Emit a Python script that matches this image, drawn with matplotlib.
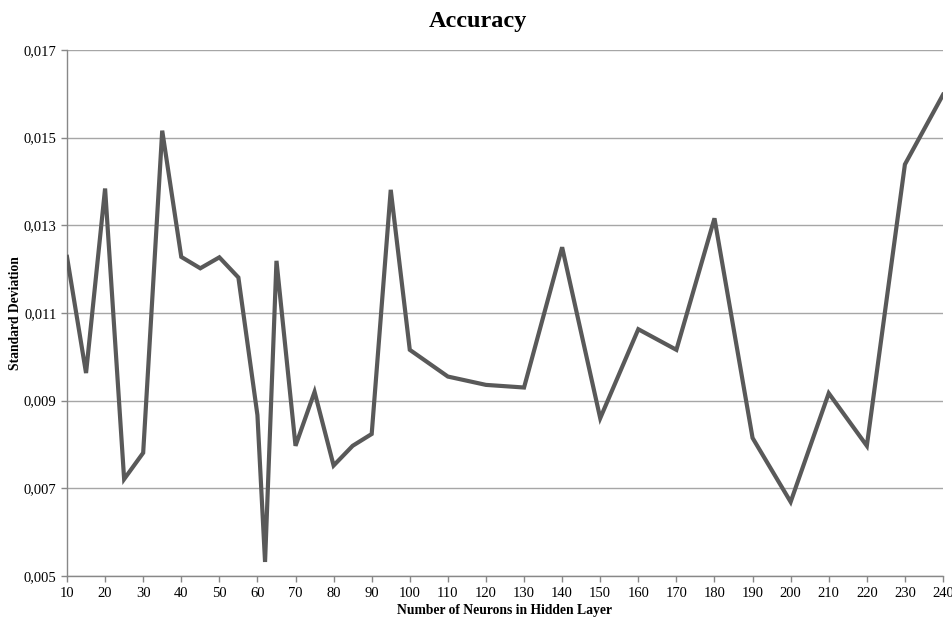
import numpy as np
import matplotlib.pyplot as plt
from matplotlib.ticker import FuncFormatter

# --- Data ---
neurons = [10, 15, 20, 25, 30, 35, 40, 45, 50, 55, 60, 62, 65, 70, 75, 80, 85, 90, 95,
           100, 110, 120, 130, 140, 150, 160, 170, 180, 190, 200, 210, 220, 230, 240]
std_dev = [0.01228, 0.00963, 0.01384, 0.00721, 0.00781, 0.01516, 0.01228, 0.01202,
           0.01227, 0.01181, 0.00867, 0.00532, 0.01219, 0.00797, 0.00920, 0.00752,
           0.00797, 0.00824, 0.01381, 0.01016, 0.00955, 0.00936, 0.00930, 0.01250,
           0.00860, 0.01063, 0.01016, 0.01316, 0.00815, 0.00669, 0.00917, 0.00797,
           0.01439, 0.01598]
x_ticks = list(range(10, 241, 10))
y_ticks = [0.005, 0.007, 0.009, 0.011, 0.013, 0.015, 0.017]

plt.rcParams['font.family'] = ['Liberation Serif', 'DejaVu Serif']

fig = plt.figure(figsize=(9.52, 6.19), dpi=100)
ax = fig.add_axes([67 / 952, 1 - 576 / 619, (943 - 67) / 952, (576 - 50) / 619])

ax.plot(neurons, std_dev, color='#595959', linewidth=3.0, solid_joinstyle='miter', zorder=3)

ax.set_xlim(10, 240)
ax.set_ylim(0.005, 0.017)
ax.set_xticks(x_ticks)
ax.set_yticks(y_ticks)
ax.yaxis.set_major_formatter(FuncFormatter(lambda v, p: f"{v:.3f}".replace('.', ',')))

ax.grid(axis='y', color='#A6A6A6', linewidth=1.0)
ax.set_axisbelow(True)
for side in ('top', 'right'):
    ax.spines[side].set_visible(False)
for side in ('left', 'bottom'):
    ax.spines[side].set_color('#888888')
    ax.spines[side].set_linewidth(1.0)
ax.tick_params(axis='both', direction='out', length=4, width=1, color='#888888',
               labelsize=10.5, labelcolor='black')
ax.tick_params(axis='x', pad=4)

# title centred on the whole figure
fig.text(0.502, 1 - 22 / 619, 'Accuracy', ha='center', va='center',
         fontsize=17.5, fontweight='bold')
ax.set_xlabel('Number of Neurons in Hidden Layer', fontsize=9.8, fontweight='bold', labelpad=3)
ax.set_ylabel('Standard Deviation', fontsize=9.8, fontweight='bold', labelpad=1)

fig.savefig('out.png', dpi=100, facecolor='white')
